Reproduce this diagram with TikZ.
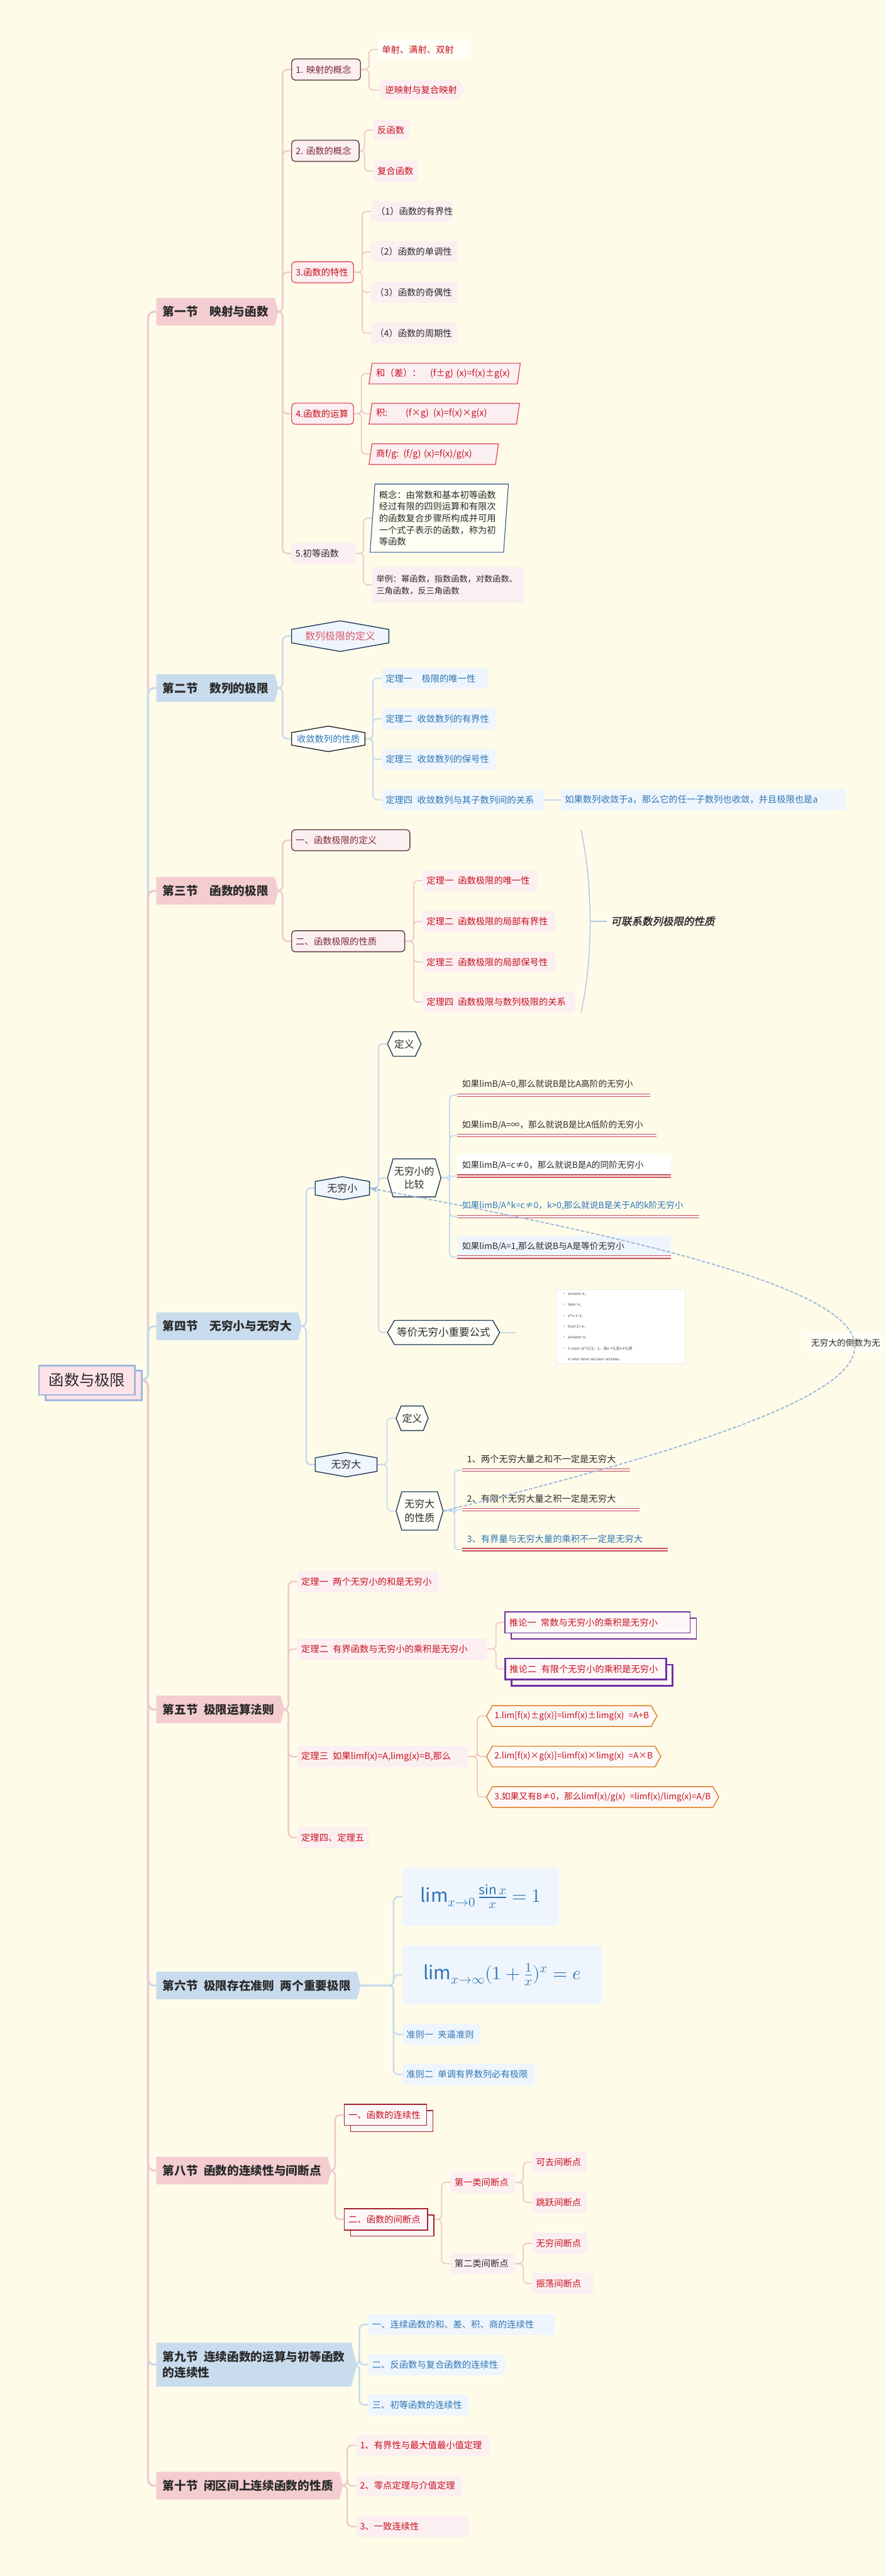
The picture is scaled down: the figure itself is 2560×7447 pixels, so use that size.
\documentclass[tikz,border=0pt]{standalone}
\usepackage{fontspec}
\usepackage{unicode-math}
\setmainfont{Noto Sans CJK SC}
\setmathfont{Latin Modern Math}
\newfontfamily\slantfont{Noto Sans CJK SC}[FakeSlant=0.2,FakeBold=2]
\newcommand\fsz[2]{\fontsize{#1}{#2}\selectfont}
\definecolor{mBg}{HTML}{FEFCE9}
\definecolor{mSecPink}{HTML}{F4CDD1}
\definecolor{mSecBlue}{HTML}{C9DCEE}
\definecolor{mLinkPink}{HTML}{F0C9CD}
\definecolor{mLinkBlue}{HTML}{C7DAED}
\definecolor{mFillPink}{HTML}{FBEFF1}
\definecolor{mFillBlue}{HTML}{EEF5FC}
\definecolor{mRed}{HTML}{C8101E}
\definecolor{mBlue}{HTML}{2E75B6}
\definecolor{mDark}{HTML}{2B2B2B}
\definecolor{mMaroon}{HTML}{5E3A3E}
\definecolor{mMaroonTxt}{HTML}{7B2A33}
\definecolor{mRose}{HTML}{E05566}
\definecolor{mNavy}{HTML}{1F3A5C}
\definecolor{mParBlue}{HTML}{2F5597}
\definecolor{mPurple}{HTML}{7030A0}
\definecolor{mOrange}{HTML}{E07B22}
\definecolor{mBrick}{HTML}{A3222C}
\definecolor{mRootLine}{HTML}{9FB7DD}
\definecolor{mRootFill}{HTML}{FDE2E8}
\definecolor{mDash}{HTML}{9DB9DC}
\definecolor{mUline}{HTML}{C9505C}
\usetikzlibrary{arrows.meta, shapes.geometric, shapes.symbols, shadows, backgrounds}

\begin{document}
\begin{tikzpicture}[x=1pt, y=-1pt,
  every node/.style={anchor=west, inner xsep=12pt, inner ysep=0pt, font=\fsz{26}{32}, text=mDark, align=left},
  wd/.style={text width=#1pt-24pt},
  rootbox/.style={draw=mRootLine, line width=5pt, fill=mRootFill, minimum width=278pt, minimum height=85pt,
    align=center, font=\fsz{44}{50}, copy shadow={shadow xshift=19pt, shadow yshift=-15pt}},
  secp/.style={signal, signal to=east, signal pointer angle=150, fill=mSecPink, minimum height=80pt,
    inner xsep=18pt, font=\fsz{34}{45}\bfseries, text=mDark},
  secb/.style={secp, fill=mSecBlue},
  mapbox/.style={draw=mMaroon, line width=2.5pt, rounded corners=10pt, fill=mFillPink, text=mMaroonTxt, minimum height=61pt},
  rosebox/.style={mapbox, draw=mRose, text=mRed},
  leafp/.style={rounded corners=9pt, fill=mFillPink, text=mRed, minimum height=61pt},
  leafb/.style={leafp, fill=mFillBlue, text=mBlue},
  plainp/.style={leafp, text=mDark},
  bannerp/.style={fill=white!70!mBg, text=mRed, minimum height=61pt},
  hexp/.style={signal, signal to=east and west, signal pointer angle=120, fill=mFillPink, text=mRed,
    minimum height=60pt, inner xsep=4pt},
  slantp/.style={trapezium, trapezium left angle=73, trapezium right angle=107, trapezium stretches=true,
    draw=mRose, line width=2.5pt, fill=mFillPink, text=mRed, minimum height=60pt},
  slantq/.style={slantp, draw=none, trapezium left angle=80, trapezium right angle=100, text=mDark},
  bluepar/.style={trapezium, trapezium left angle=85, trapezium right angle=95, trapezium stretches=true,
    draw=mParBlue, line width=2pt, fill=white!50!mBg, font=\fsz{26}{34}},
  hexns/.style={signal, signal to=north and south, signal pointer angle=160, draw=mNavy, line width=2.5pt,
    fill=mFillBlue, inner ysep=6pt, font=\fsz{29}{36}, align=center},
  hexew/.style={signal, signal to=east and west, draw=mNavy, line width=2.5pt, fill=white!60!mBg,
    font=\fsz{29}{39}, align=center},
  orhex/.style={signal, signal to=east and west, signal pointer angle=120, draw=mOrange, line width=2.5pt,
    fill=white!60!mFillPink, text=mRed, minimum height=60pt, inner xsep=6pt, font=\fsz{25}{30}},
  purbox/.style={draw=mPurple, line width=3pt, fill=white!50!mFillPink, text=mRed, minimum height=61pt,
    copy shadow={shadow xshift=18pt, shadow yshift=-18pt}},
  brickbox/.style={purbox, draw=mBrick},
  uline/.style={anchor=south west, minimum height=62pt, inner xsep=14pt, font=\fsz{25}{30}},
  ulstroke/.style={draw=mUline, line width=2.5pt, double=mFillPink, double distance=5pt},
  mathbox/.style={rounded corners=10pt, fill=mFillBlue, text=mBlue, font=\fsz{54}{64}, inner xsep=22pt},
  imgbox/.style={draw=black!8, line width=1pt, fill=white, inner xsep=18pt, minimum height=216pt,
    font=\fsz{11}{31.5}, text=black!75},
  rlink/.style={line width=6pt, rounded corners=18pt},
  slink/.style={line width=4.5pt, rounded corners=14pt},
  tlink/.style={line width=3.5pt, rounded corners=12pt},
  relline/.style={draw=mDash, line width=3.5pt, dash pattern=on 10pt off 5pt, -{Stealth[length=22pt,width=18pt]}},
  brace/.style={draw=mLinkBlue!80!mBlue, line width=2.5pt},
  rellabel/.style={fill=white!60!mBg, inner xsep=10pt, minimum height=58pt, font=\fsz{25}{30}},
  sumlabel/.style={font=\fsz{30}{36}\slantfont, text=mDark}
]
\useasboundingbox (0,0) rectangle (2560,7447);

% root
\node[rootbox] (root) at (110,3990) {函数与极限};

% sections
\node[secp] (s1) at (452,901) {第一节　映射与函数};
\node[secb] (s2) at (452,1989) {第二节　数列的极限};
\node[secp] (s3) at (452,2575) {第三节　函数的极限};
\node[secb] (s4) at (452,3834) {第四节　无穷小与无穷大};
\node[secp] (s5) at (452,4942) {第五节\enspace 极限运算法则};
\node[secb] (s6) at (452,5740) {第六节\enspace 极限存在准则\enspace 两个重要极限};
\node[secp] (s8) at (452,6275) {第八节\enspace 函数的连续性与间断点};
\node[secb, minimum height=127pt] (s9) at (452,6836) {第九节\enspace 连续函数的运算与初等函数\\的连续性};
\node[secp] (s10) at (452,7186) {第十节\enspace 闭区间上连续函数的性质};

% 第一节
\node[mapbox, wd=199] (a1) at (842,201) {1.~映射的概念};
\node[bannerp, wd=264] (a11) at (1092,143) {单射、满射、双射};
\node[hexp] (a12) at (1092,260) {逆映射与复合映射};
\node[mapbox, wd=195] (a2) at (842,436) {2.~函数的概念};
\node[leafp, wd=103] (a21) at (1079,376) {反函数};
\node[leafp, wd=130] (a22) at (1079,495) {复合函数};
\node[rosebox, wd=179] (a3) at (842,787) {3.函数的特性};
\node[slantq, wd=230] (a31) at (1072,611) {（1）函数的有界性};
\node[plainp, wd=250] (a32) at (1072,728) {（2）函数的单调性};
\node[plainp, wd=250] (a33) at (1072,845) {（3）函数的奇偶性};
\node[plainp, wd=250] (a34) at (1072,963) {（4）函数的周期性};
\node[rosebox, wd=179] (a4) at (842,1196) {4.函数的运算};
\node[slantp, wd=420] (a41) at (1070,1080) {和（差）：\quad (f±g)~(x)=f(x)±g(x)};
\node[slantp, wd=418] (a42) at (1070,1196) {积:\qquad (f×g)\enspace (x)=f(x)×g(x)};
\node[slantp, wd=357] (a43) at (1070,1313) {商f/g:\enspace (f/g)~(x)=f(x)/g(x)};
\node[plainp, wd=187] (a5) at (842,1600) {5.初等函数};
\node[bluepar, wd=372, minimum height=197pt] (a51) at (1076,1498)
  {概念：由常数和基本初等函数\\经过有限的四则运算和有限次\\的函数复合步骤所构成并可用\\一个式子表示的函数，称为初\\等函数};
\node[plainp, wd=440, minimum height=104pt, font=\fsz{24}{34}] (a52) at (1076,1691)
  {举例：幂函数，指数函数，对数函数、\\三角函数，反三角函数};

% 第二节
\node[hexns, inner xsep=39pt, text=mRose] (b1) at (842,1839) {数列极限的定义};
\node[hexns, inner xsep=15pt, fill=white, draw=black!85, text=mBlue, font=\fsz{26}{32}] (b2) at (842,2136) {收敛数列的性质};
\node[leafb, wd=308] (b21) at (1103,1961) {定理一\quad 极限的唯一性};
\node[leafb, wd=331] (b22) at (1103,2078) {定理二\enspace 收敛数列的有界性};
\node[leafb, wd=331] (b23) at (1103,2195) {定理三\enspace 收敛数列的保号性};
\node[leafb, wd=469] (b24) at (1103,2312) {定理四\enspace 收敛数列与其子数列间的关系};
\node[leafb, wd=825] (b241) at (1621,2312) {如果数列收敛于a，那么它的任一子数列也收敛，并且极限也是a};

% 第三节
\node[mapbox, wd=342] (c1) at (842,2429) {一、函数极限的定义};
\node[mapbox, wd=327] (c2) at (842,2721) {二、函数极限的性质};
\node[leafp, wd=331] (c21) at (1221,2546) {定理一\enspace 函数极限的唯一性};
\node[leafp, wd=385] (c22) at (1221,2664) {定理二\enspace 函数极限的局部有界性};
\node[leafp, wd=385] (c23) at (1221,2781) {定理三\enspace 函数极限的局部保号性};
\node[leafp, wd=442] (c24) at (1221,2897) {定理四\enspace 函数极限与数列极限的关系};
\coordinate (brtop) at (1680,2400);
\coordinate (brbot) at (1680,2927);
\coordinate (brmid) at (1706,2663);
\node[sumlabel] (sumlbl) at (1754,2663) {可联系数列极限的性质};

% 第四节
\node[hexns, inner xsep=35pt] (d1) at (910,3435) {无穷小};
\node[hexew, signal pointer angle=130, inner xsep=3pt, minimum height=71pt] (d11) at (1119,3018) {定义};
\node[hexew, signal pointer angle=147, inner xsep=3pt, minimum height=110pt] (d12) at (1119,3405) {无穷小的\\比较};
\node[hexew, signal pointer angle=120, inner xsep=7pt, minimum height=70pt, font=\fsz{30}{36}] (d13) at (1119,3852) {等价无穷小重要公式};
\node[uline, wd=553] (d121) at (1322,3166) {如果limB/A=0,那么就说B是比A高阶的无穷小};
\node[uline, wd=571] (d122) at (1322,3283) {如果limB/A=∞，那么就说B是比A低阶的无穷小};
\node[uline, wd=613, fill=white] (d123) at (1322,3400) {如果limB/A=c≠0，那么就说B是A的同阶无穷小};
\node[uline, wd=696, text=mBlue] (d124) at (1322,3517) {如果limB/A\textasciicircum k=c≠0，k>0,那么就说B是关于A的k阶无穷小};
\node[uline, wd=613, fill=mFillBlue] (d125) at (1322,3634) {如果limB/A=1,那么就说B与A是等价无穷小};
\coordinate (fmlin) at (1491,3852);
\node[imgbox, text width=337pt] (d131) at (1607,3835)
  {•\enspace arcsinx\textasciitilde x；\\
   •\enspace tanx\textasciitilde x；\\
   •\enspace e\textasciicircum x-1\textasciitilde x；\\
   •\enspace ln(x+1)\textasciitilde x；\\
   •\enspace arctanx\textasciitilde x；\\
   •\enspace 1-cosx\textasciitilde(x\textasciicircum 2)/2。1、当x→0,且x≠0,则\\
   \phantom{•}\enspace x\textasciitilde sinx\textasciitilde tanx\textasciitilde arcsinx\textasciitilde arctanx。};
\node[hexns, inner xsep=46pt] (d2) at (910,4234) {无穷大};
\node[hexew, signal pointer angle=136, inner xsep=3pt, minimum height=71pt] (d21) at (1144,4100) {定义};
\node[hexew, signal pointer angle=147, inner xsep=8pt, minimum height=111pt] (d22) at (1144,4368) {无穷大\\的性质};
\node[uline, wd=482, font=\fsz{26}{30}] (d221) at (1336,4250) {1、两个无穷大量之和不一定是无穷大};
\node[uline, wd=508, font=\fsz{26}{30}] (d222) at (1336,4364) {2、有限个无穷大量之积一定是无穷大};
\node[uline, wd=590, font=\fsz{26}{30}, text=mBlue] (d223) at (1336,4480) {3、有界量与无穷大量的乘积不一定是无穷大};
\node[rellabel] (inv) at (2335,3882) {无穷大的倒数为无};

% 第五节
\node[leafp, wd=410] (e1) at (859,4572) {定理一\enspace 两个无穷小的和是无穷小};
\node[leafp, wd=549] (e2) at (859,4767) {定理二\enspace 有界函数与无穷小的乘积是无穷小};
\node[purbox, wd=535] (e21) at (1459,4690) {推论一\enspace 常数与无穷小的乘积是无穷小};
\node[purbox, wd=465, line width=5pt] (e22) at (1459,4825) {推论二\enspace 有限个无穷小的乘积是无穷小};
\node[leafp, wd=494] (e3) at (859,5078) {定理三\enspace 如果limf(x)=A,limg(x)=B,那么};
\node[orhex] (e31) at (1405,4961) {1.lim[f(x)±g(x)]=limf(x)±limg(x)\enspace =A+B};
\node[orhex] (e32) at (1405,5078) {2.lim[f(x)×g(x)]=limf(x)×limg(x)\enspace =A×B};
\node[orhex] (e33) at (1405,5195) {3.如果又有B≠0，那么limf(x)/g(x)\enspace =limf(x)/limg(x)=A/B};
\node[leafp, wd=209] (e4) at (859,5312) {定理四、定理五};

% 第六节
\node[mathbox, minimum width=453pt, minimum height=169pt] (f1) at (1163,5483) {$\lim_{x\to 0}\frac{\sin x}{x}=1$};
\node[mathbox, minimum width=578pt, minimum height=170pt] (f2) at (1163,5709) {$\lim_{x\to\infty}(1+\frac{1}{x})^{x}=e$};
\node[leafb, wd=225] (f3) at (1163,5881) {准则一\enspace 夹逼准则};
\node[leafb, wd=384] (f4) at (1163,5997) {准则二\enspace 单调有界数列必有极限};

% 第八节
\node[brickbox, wd=238] (g1) at (994,6114) {一、函数的连续性};
\node[brickbox, wd=241] (g2) at (994,6416) {二、函数的间断点};
\node[leafp, wd=187] (g21) at (1302,6309) {第一类间断点};
\node[plainp, wd=187] (g22) at (1302,6544) {第二类间断点};
\node[leafp, wd=158] (g211) at (1538,6251) {可去间断点};
\node[leafp, wd=158] (g212) at (1538,6367) {跳跃间断点};
\node[leafp, wd=160] (g221) at (1538,6485) {无穷间断点};
\node[leafp, wd=177] (g222) at (1538,6601) {振荡间断点};

% 第九节
\node[leafb, wd=541] (h1) at (1064,6720) {一、连续函数的和、差、积、商的连续性};
\node[leafb, wd=396] (h2) at (1064,6836) {二、反函数与复合函数的连续性};
\node[leafb, wd=291] (h3) at (1064,6952) {三、初等函数的连续性};

% 第十节
\node[leafp, wd=385] (i1) at (1029,7069) {1、有界性与最大值最小值定理};
\node[leafp, wd=306] (i2) at (1029,7186) {2、零点定理与介值定理};
\node[leafp, wd=327] (i3) at (1029,7304) {3、一致连续性};

% underlines
\foreach \u in {d121,d122,d123,d124,d125,d221,d222,d223}
  \draw[ulstroke] (\u.south west) -- (\u.south east);

% relation
\draw[relline] (d22.east) .. controls (2877,3974) and (2924,3778) .. (d1.east);

\begin{scope}[on background layer]
\fill[mBg] (0,0) rectangle (2560,7447);
% root to sections
\foreach \s/\col in {s1/mLinkPink, s2/mLinkBlue, s3/mLinkPink, s4/mLinkBlue, s5/mLinkPink,
                     s6/mLinkBlue, s8/mLinkPink, s9/mLinkBlue, s10/mLinkPink}
  \draw[rlink, draw=\col] (root.east) -| ([xshift=-24pt]\s.west) -- (\s.west);
% pink groups
\foreach \p/\c in {s1/a1, s1/a2, s1/a3, s1/a4, s1/a5, s3/c1, s3/c2, s5/e1, s5/e2, s5/e3, s5/e4, s8/g1, s8/g2, s10/i1, s10/i2, s10/i3}
  \draw[slink, draw=mLinkPink] (\p.east) -| ([xshift=-25pt]\c.west) -- (\c.west);
\foreach \p/\c in {a1/a11, a1/a12, a2/a21, a2/a22, a3/a31, a3/a32, a3/a33, a3/a34, a4/a41, a4/a42, a4/a43,
                   a5/a51, a5/a52, c2/c21, c2/c22, c2/c23, c2/c24, e2/e21, e2/e22, e3/e31, e3/e32, e3/e33,
                   g2/g21, g2/g22, g21/g211, g21/g212, g22/g221, g22/g222}
  \draw[tlink, draw=mLinkPink] (\p.east) -| ([xshift=-25pt]\c.west) -- (\c.west);
% blue groups
\foreach \p/\c in {s2/b1, s2/b2, s4/d1, s4/d2, s6/f1, s6/f2, s6/f3, s6/f4, s9/h1, s9/h2, s9/h3}
  \draw[slink, draw=mLinkBlue] (\p.east) -| ([xshift=-25pt]\c.west) -- (\c.west);
\foreach \p/\c in {b2/b21, b2/b22, b2/b23, b2/b24, d1/d11, d1/d12, d1/d13, d2/d21, d2/d22}
  \draw[tlink, draw=mLinkBlue] (\p.east) -| ([xshift=-25pt]\c.west) -- (\c.west);
\foreach \p/\c in {d12/d121, d12/d122, d12/d123, d12/d124, d12/d125, d22/d221, d22/d222, d22/d223}
  \draw[tlink, draw=mLinkBlue] (\p.east) -| ([xshift=-22pt]\c.south west) -- (\c.south west);
\draw[tlink, draw=mLinkBlue] (b24.east) -- (b241.west);
\draw[tlink, draw=mLinkBlue] (d13.east) -- (fmlin);
% summary bracket
\draw[brace] (brtop) .. controls (1715,2560) and (1715,2770) .. (brbot);
\draw[brace, line width=4pt] (brmid) -- (sumlbl.west);
\end{scope}
\end{tikzpicture}
\end{document}
